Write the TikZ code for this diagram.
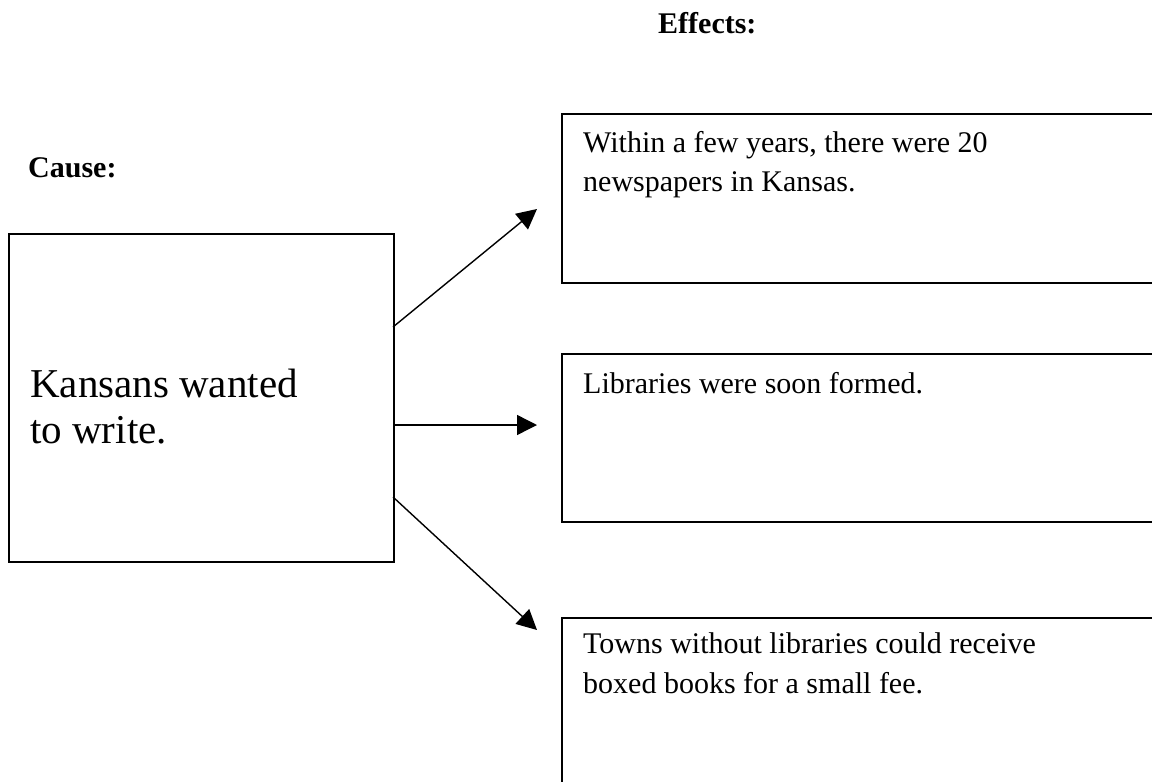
\documentclass[tikz,border=0pt]{standalone}
\usepackage{fontspec}
\setmainfont{Liberation Serif}
\usetikzlibrary{arrows.meta}
\begin{document}
\begin{tikzpicture}[x=1pt,y=-1pt,
  box/.style={draw=black, line width=2pt, anchor=north west, inner sep=0pt},
  txt/.style={anchor=base west, inner sep=0pt, font=\fontsize{30}{36}\selectfont},
  big/.style={anchor=base west, inner sep=0pt, font=\fontsize{41}{46}\selectfont},
  head/.style={anchor=base west, inner sep=0pt, font=\fontsize{30}{36}\selectfont\bfseries},
  conn/.style={line width=1.4pt, -{Triangle[length=20pt,width=20pt]}}]
\clip (0,0) rectangle (1152,782);
\fill[white] (0,0) rectangle (1152,782);
% headings
\node[head] (effects) at (658,33) {Effects:};
\node[head] (cause) at (28,177) {Cause:};
% cause box
\node[box, minimum width=385pt, minimum height=328pt] (causebox) at (8,233) {};
\node[big] (k1) at (30,397) {Kansans wanted};
\node[big] (k2) at (30,443) {to write.};
% effect boxes
\node[box, minimum width=620pt, minimum height=169pt] (e1) at (561,113) {};
\node[txt] (t11) at (583,152) {Within a few years, there were 20};
\node[txt] (t12) at (583,191) {newspapers in Kansas.};
\node[box, minimum width=620pt, minimum height=168pt] (e2) at (561,353) {};
\node[txt] (t21) at (583,393) {Libraries were soon formed.};
\node[box, minimum width=620pt, minimum height=200pt] (e3) at (561,617) {};
\node[txt] (t31) at (583,653) {Towns without libraries could receive};
\node[txt] (t32) at (583,693) {boxed books for a small fee.};
% connector end points
\coordinate (s1) at (393,327);
\coordinate (s2) at (393,425);
\coordinate (s3) at (393,497);
\coordinate (a1) at (537,209);
\coordinate (a2) at (537,425);
\coordinate (a3) at (537,630);
\draw[conn] (s1) -- (a1);
\draw[conn] (s2) -- (a2);
\draw[conn] (s3) -- (a3);
\end{tikzpicture}
\end{document}
